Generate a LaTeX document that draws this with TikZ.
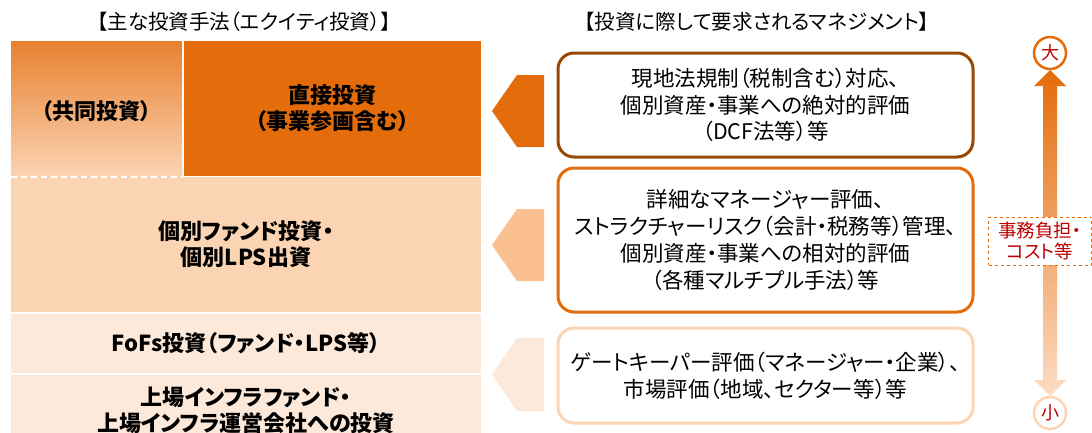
\documentclass[tikz,border=0pt]{standalone}
\usepackage{fontspec}
\setmainfont{Noto Sans CJK JP}[RawFeature=+palt]
\definecolor{dorange}{HTML}{E46C0A}
\definecolor{peach}{HTML}{FBD4B4}
\definecolor{lpeach}{HTML}{FDE9D9}
\definecolor{chev2}{HTML}{FAC090}
\definecolor{brownb}{HTML}{984806}
\definecolor{darkred}{HTML}{C00000}
\definecolor{midor}{HTML}{F4AA72}
\definecolor{lowor}{HTML}{FCDCC4}
\definecolor{subtop}{HTML}{E8812F}
\definecolor{submid}{HTML}{F6B989}
\tikzset{
  block/.style={inner sep=0pt, align=center, font=\fontsize{22}{26}\selectfont\bfseries},
  mbox/.style={rounded corners=16pt, line width=3pt, fill=white, align=center,
    minimum width=415pt, font=\fontsize{21.5}{26.7}\selectfont},
  ttl/.style={font=\fontsize{20.5}{22}\selectfont},
  endcirc/.style={circle, line width=2.5pt, fill=white, minimum size=32pt, inner sep=0pt,
    text=darkred, font=\fontsize{18}{20}\selectfont},
}
\begin{document}
\begin{tikzpicture}[x=1pt,y=-1pt]
\useasboundingbox (0,0) rectangle (1092,432);
% titles
\node[ttl] (t1) at (244,22) {【主な投資手法（エクイティ投資）】};
\node[ttl] (t2) at (757,22) {【投資に際して要求されるマネジメント】};
% left blocks
\node[block, minimum width=470pt, minimum height=135pt, fill=peach] (b2) at (246,244.5)
  {個別ファンド投資・\\個別LPS出資};
\node[block, minimum width=470pt, minimum height=59pt, fill=lpeach] (b3) at (246,343.5)
  {FoFs投資（ファンド・LPS等）};
\node[block, minimum width=470pt, minimum height=70pt, fill=lpeach] (b4) at (246,410)
  {上場インフラファンド・\\上場インフラ運営会社への投資};
\shade[top color=subtop, middle color=submid, bottom color=peach] (11,41) rectangle (182,176);
\node[block] (sub) at (96.5,111) {（共同投資）};
\node[block, minimum width=297pt, minimum height=135pt, fill=dorange] (direct) at (332.5,108.5)
  {直接投資\\（事業参画含む）};
\draw[white, line width=1.5pt, dash pattern=on 6pt off 4pt] (11,177) -- (182,177);
% chevrons
\fill[dorange] (544,75) -- (517,75) -- (492,111) -- (517,147) -- (544,147) -- cycle;
\fill[chev2] (544,209) -- (517,209) -- (492,245) -- (517,281) -- (544,281) -- cycle;
\fill[lpeach] (544,338) -- (517,338) -- (492,374.5) -- (517,411) -- (544,411) -- cycle;
% management boxes
\node[mbox, draw=brownb, minimum height=104pt] (m1) at (765.5,105)
  {現地法規制（税制含む）対応、\\個別資産・事業への絶対的評価\\（DCF法等）等};
\node[mbox, draw=dorange, minimum height=144pt] (m2) at (765.5,240)
  {詳細なマネージャー評価、\\ストラクチャーリスク（会計・税務等）管理、\\個別資産・事業への相対的評価\\（各種マルチプル手法）等};
\node[mbox, draw=peach, minimum height=95pt] (m3) at (765.5,375.5)
  {ゲートキーパー評価（マネージャー・企業）、\\市場評価（地域、セクター等）等};
% right arrow
\shade[top color=dorange, middle color=midor, bottom color=lowor]
  (1050,70) -- (1066,86) -- (1057,86) -- (1057,380) -- (1066,380) -- (1050,396)
  -- (1034,380) -- (1043,380) -- (1043,86) -- (1034,86) -- cycle;
\node[endcirc, draw=dorange] (big) at (1050,53) {大};
\node[endcirc, draw=peach] (small) at (1050,413) {小};
\node[draw=dorange, dashed, line width=0.8pt, fill=white, minimum width=103pt, minimum height=48pt,
  align=center, inner sep=0pt, text=darkred, font=\fontsize{18.5}{20.5}\selectfont] (cost) at (1040,241)
  {事務負担・\\コスト等};
\end{tikzpicture}
\end{document}
